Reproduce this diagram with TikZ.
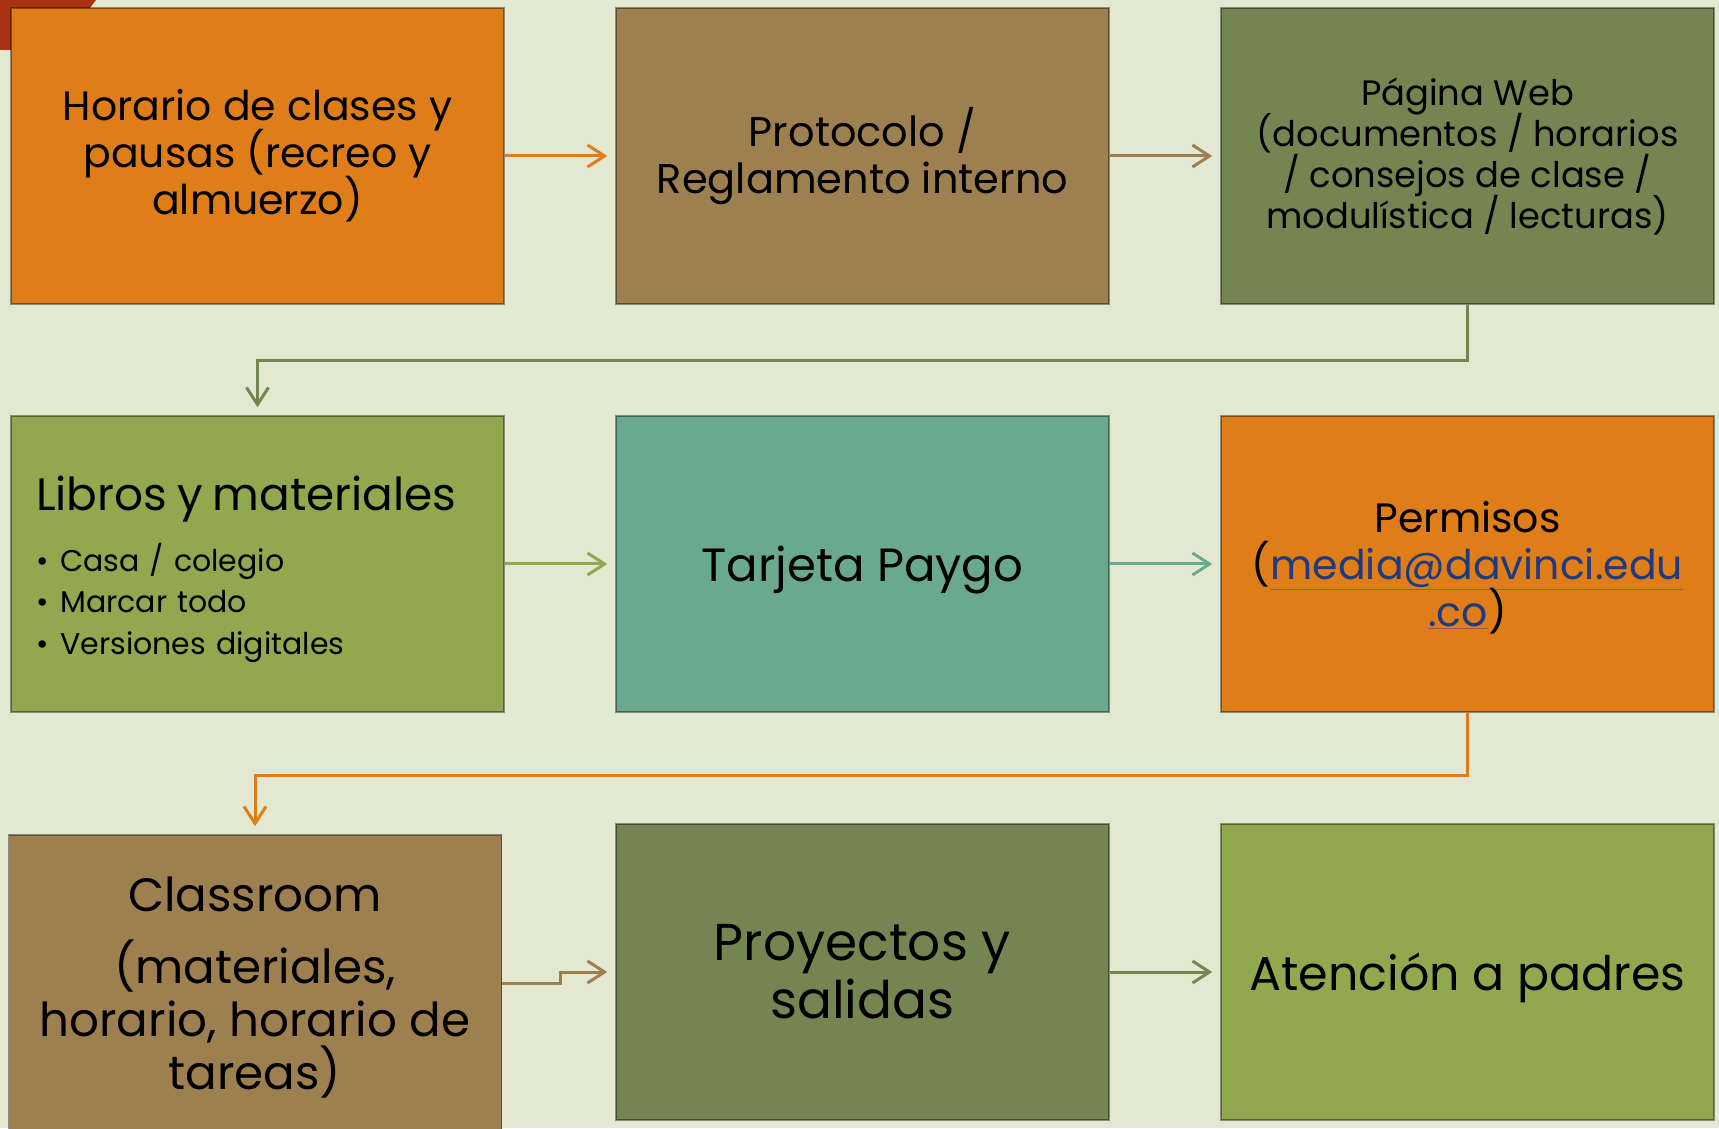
\documentclass[tikz,border=0pt]{standalone}
\usepackage{fontspec}
\setmainfont{Poppins}
\usepackage{tikz}
\usetikzlibrary{positioning}
\usetikzlibrary{arrows.meta}
\definecolor{fondo}{HTML}{E3E8D1}
\definecolor{naranja}{HTML}{DF7D19}
\definecolor{cafe}{HTML}{9E8050}
\definecolor{oliva}{HTML}{758552}
\definecolor{verde}{HTML}{91A84E}
\definecolor{turquesa}{HTML}{69AA8E}
\definecolor{rojo}{HTML}{A83212}
\definecolor{enlace}{HTML}{1F3B80}
\tikzstyle{box} = [rectangle, minimum width=493pt, minimum height=296pt, inner sep=0pt, align=center, draw=black, draw opacity=0.4, line width=1.5pt]
\tikzstyle{orangebox} = [box, fill=naranja]
\tikzstyle{brownbox} = [box, fill=cafe]
\tikzstyle{olivebox} = [box, fill=oliva]
\tikzstyle{greenbox} = [box, fill=verde]
\tikzstyle{tealbox} = [box, fill=turquesa]
\tikzstyle{arrow} = [line width=3pt, shorten >=8pt, -{Straight Barb[length=17pt,width=22pt]}]
\newcommand{\correo}[1]{\textcolor{enlace}{\underline{#1}}}

\begin{document}
\lineskiplimit=-100pt
\begin{tikzpicture}[node distance=408pt and 605pt, on grid]

    \useasboundingbox (0,0) rectangle (1719pt,1128pt);
    \fill [fondo] (0,0) rectangle (1719pt,1128pt);
    \clip (0,0) rectangle (1719pt,1128pt);
    \fill [rojo] (0,1128pt) -- (96pt,1128pt) -- (58pt,1078pt) -- (0,1078pt) -- cycle;

    \node (horario) [orangebox, font=\fontsize{41}{47}\selectfont] at (257.5pt,972pt) {Horario de clases y\\ pausas (recreo y\\ almuerzo)};
    \node (protocolo) [brownbox, right=of horario, font=\fontsize{41.5}{47}\selectfont] {Protocolo /\\ Reglamento interno};
    \node (pagina) [olivebox, right=of protocolo, font=\fontsize{35.3}{41}\selectfont] {Página Web\\ (documentos / horarios\\ / consejos de clase /\\ modulística / lecturas)};
    \node (libros) [greenbox, below=of horario, text width=443pt, inner xsep=25pt, align=left, font=\fontsize{30}{41.6}\selectfont]
        {{\fontsize{45.4}{53}\selectfont\rule{0pt}{45pt}Libros y materiales}\\[19pt]
         \hspace*{0pt}\textbullet\hspace{12pt}Casa / colegio\\
         \hspace*{0pt}\textbullet\hspace{12pt}Marcar todo\\
         \hspace*{0pt}\textbullet\hspace{12pt}Versiones digitales};
    \node (tarjeta) [tealbox, right=of libros, text depth=0pt, font=\fontsize{46.6}{55}\selectfont] {Tarjeta Paygo};
    \node (permisos) [orangebox, right=of tarjeta, text depth=0pt, font=\fontsize{41}{47}\selectfont] {Permisos\\ (\correo{media@davinci.edu}\\ \correo{.co})};
    \node (classroom) [brownbox, below=of libros, xshift=-2.5pt, yshift=-11pt, text depth=0pt, font=\fontsize{46.8}{53}\selectfont] {Classroom\\[19pt] (materiales,\\ horario, horario de\\ tareas)};
    \node (proyectos) [olivebox, below=of tarjeta, font=\fontsize{51.8}{58}\selectfont] {Proyectos y\\ salidas};
    \node (atencion) [greenbox, right=of proyectos, text depth=0pt, font=\fontsize{47.5}{53}\selectfont] {Atención a padres};

    \draw [arrow, naranja] (horario) -- (protocolo);
    \draw [arrow, cafe] (protocolo) -- (pagina);
    \draw [arrow, oliva] (pagina.south) -- ++(0,-56pt) -| (libros.north);
    \draw [arrow, verde] (libros) -- (tarjeta);
    \draw [arrow, turquesa] (tarjeta) -- (permisos);
    \draw [arrow, naranja] (permisos.south) -- ++(0,-63pt) -| (classroom.north);
    \draw [arrow, cafe] (classroom.east) -- ++(58pt,0) |- (proyectos.west);
    \draw [arrow, oliva] (proyectos) -- (atencion);

\end{tikzpicture}
\end{document}
